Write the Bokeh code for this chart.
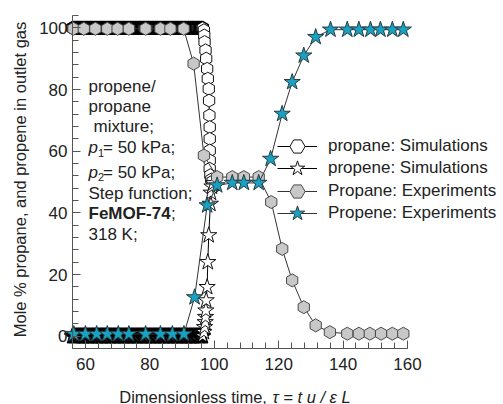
import math
from bokeh.plotting import figure
from bokeh.models import (Range1d, Legend, LegendItem, Label, ColumnDataSource, FixedTicker,
                          CDSView, IndexFilter)
from bokeh.embed import file_html
from bokeh.resources import INLINE

# ---------------- data ----------------
x_major_ticks = [60, 80, 100, 120, 140, 160]
x_minor_ticks = [56, 60, 64, 68, 72, 76, 80, 84, 88, 92, 96, 100, 104, 108, 112,
                 116, 120, 124, 128, 132, 136, 140, 144, 148, 152, 156, 160]
y_major_ticks = [0, 20, 40, 60, 80, 100]
y_minor_ticks = [-4, 0, 4, 8, 12, 16, 20, 24, 28, 32, 36, 40, 44, 48, 52, 56, 60,
                 64, 68, 72, 76, 80, 84, 88, 92, 96, 100, 104]

# simulations: dense output (appears as a solid band)
sim_plateau_t = [
    56.0, 56.4, 56.8, 57.2, 57.6, 58.0, 58.4, 58.8, 59.2, 59.6,
    60.0, 60.4, 60.8, 61.2, 61.6, 62.0, 62.4, 62.8, 63.2, 63.6,
    64.0, 64.4, 64.8, 65.2, 65.6, 66.0, 66.4, 66.8, 67.2, 67.6,
    68.0, 68.4, 68.8, 69.2, 69.6, 70.0, 70.4, 70.8, 71.2, 71.6,
    72.0, 72.4, 72.8, 73.2, 73.6, 74.0, 74.4, 74.8, 75.2, 75.6,
    76.0, 76.4, 76.8, 77.2, 77.6, 78.0, 78.4, 78.8, 79.2, 79.6,
    80.0, 80.4, 80.8, 81.2, 81.6, 82.0, 82.4, 82.8, 83.2, 83.6,
    84.0, 84.4, 84.8, 85.2, 85.6, 86.0, 86.4, 86.8, 87.2, 87.6,
    88.0, 88.4, 88.8, 89.2, 89.6, 90.0, 90.4, 90.8, 91.2, 91.6,
    92.0, 92.4, 92.8, 93.2, 93.6, 94.0, 94.4, 94.8, 95.2, 95.6,
    96.0, 96.4]
sim_propane_plateau = [
    100, 100, 100, 100, 100, 100, 100, 100, 100, 100, 100, 100, 100, 100, 100, 100, 100,
    100, 100, 100, 100, 100, 100, 100, 100, 100, 100, 100, 100, 100, 100, 100, 100, 100,
    100, 100, 100, 100, 100, 100, 100, 100, 100, 100, 100, 100, 100, 100, 100, 100, 100,
    100, 100, 100, 100, 100, 100, 100, 100, 100, 100, 100, 100, 100, 100, 100, 100, 100,
    100, 100, 100, 100, 100, 100, 100, 100, 100, 100, 100, 100, 100, 100, 100, 100, 100,
    100, 100, 100, 100, 100, 100, 100, 100, 100, 100, 100, 100, 100, 100, 100, 100, 100]
sim_propene_plateau = [
    0, 0, 0, 0, 0, 0, 0, 0, 0, 0, 0, 0, 0, 0, 0, 0, 0,
    0, 0, 0, 0, 0, 0, 0, 0, 0, 0, 0, 0, 0, 0, 0, 0, 0,
    0, 0, 0, 0, 0, 0, 0, 0, 0, 0, 0, 0, 0, 0, 0, 0, 0,
    0, 0, 0, 0, 0, 0, 0, 0, 0, 0, 0, 0, 0, 0, 0, 0, 0,
    0, 0, 0, 0, 0, 0, 0, 0, 0, 0, 0, 0, 0, 0, 0, 0, 0,
    0, 0, 0, 0, 0, 0, 0, 0, 0, 0, 0, 0, 0, 0, 0, 0, 0]

sim_propane_front_t = [96.8, 96.9, 97.0, 97.3, 97.5, 97.8, 98.0, 98.3, 98.4, 98.5,
                       98.6, 98.6, 98.6, 98.6, 98.6, 98.8, 99.1, 99.5]
sim_propane_front_y = [99.2, 97.5, 95.4, 92.7, 90.0, 86.7, 83.5, 80.2, 76.4, 71.6,
                       67.8, 64.0, 60.2, 57.0, 54.3, 52.2, 50.8, 50.2]
sim_propene_front_t = [96.8, 97.0, 97.2, 97.3, 97.4, 97.5, 97.8, 98.0, 98.3, 98.8,
                       99.0, 99.3, 99.7]
sim_propene_front_y = [1.3, 2.9, 4.5, 6.2, 8.3, 11.6, 15.9, 24.0, 32.7, 42.9,
                       46.5, 48.5, 49.6]

# experiments
exp_propane_t = [56.3, 59.5, 63.1, 66.8, 70.0, 73.5, 78.7, 83.3, 86.4, 90.5,
                 93.6, 96.8, 100.9, 105.6, 109.2, 113.8, 117.7, 121.1, 124.2, 127.8,
                 131.5, 135.9, 141.3, 144.9, 148.3, 151.8, 155.3, 158.7]
exp_propane_y = [99.7, 99.7, 99.7, 99.7, 99.7, 99.7, 99.7, 99.7, 99.7, 99.7,
                 88.4, 58.6, 51.6, 51.6, 51.6, 51.6, 43.5, 28.3, 18.1, 9.4,
                 3.5, 1.3, 0.8, 0.8, 0.8, 0.8, 0.8, 0.8]
exp_propene_t = [56.4, 60.0, 63.5, 66.8, 70.2, 73.5, 78.7, 83.3, 87.0, 90.6,
                 93.9, 97.8, 100.9, 105.6, 109.2, 113.8, 117.5, 121.1, 124.2, 127.8,
                 131.5, 136.1, 141.3, 144.9, 148.5, 151.6, 155.3, 158.7]
exp_propene_y = [0.7, 0.7, 0.7, 0.7, 0.7, 0.7, 0.7, 0.7, 0.7, 0.7,
                 12.6, 42.4, 48.9, 49.7, 49.7, 49.7, 57.5, 72.1, 82.4, 91.0,
                 97.0, 99.4, 99.4, 99.4, 99.4, 99.4, 99.4, 99.4]

series_labels = ["propane: Simulations", "propene: Simulations",
                 "Propane: Experiments", "Propene: Experiments"]
annotation_lines = ["propene/", "propane", "mixture;"]

# ---------------- layout (frame = whole canvas) ----------------
W, H = 503, 404
AX_L, AX_R, AX_T, AX_B = 72, 407, 15, 348          # axis corners in pixels
SX = (AX_R - AX_L) / (x_minor_ticks[-1] - x_minor_ticks[0])
SY = (AX_B - AX_T) / (y_minor_ticks[-1] - y_minor_ticks[0])
X0 = x_minor_ticks[0] - AX_L / SX
X1 = x_minor_ticks[-1] + (W - AX_R) / SX
Y1 = y_minor_ticks[-1] + AX_T / SY
Y0 = y_minor_ticks[0] - (H - AX_B) / SY

def X(px):
    return X0 + px / SX

def Y(py):
    return Y1 - py / SY

FONT = "Liberation Sans"
TXT = "#222222"
AX = "#555555"

p = figure(width=W, height=H, x_range=Range1d(X0, X1), y_range=Range1d(Y0, Y1),
           output_backend="svg", toolbar_location=None,
           min_border=0, min_border_left=0, min_border_right=0,
           min_border_top=0, min_border_bottom=0)
p.background_fill_color = "white"
p.border_fill_color = "white"
p.outline_line_color = None
p.grid.visible = False

p.xaxis.ticker = FixedTicker(ticks=x_major_ticks, minor_ticks=x_minor_ticks)
p.yaxis.ticker = FixedTicker(ticks=y_major_ticks, minor_ticks=y_minor_ticks)
p.xaxis.bounds = (x_minor_ticks[0], x_minor_ticks[-1])
p.yaxis.bounds = (y_minor_ticks[0], y_minor_ticks[-1])
p.xaxis.fixed_location = y_minor_ticks[0]
p.yaxis.fixed_location = x_minor_ticks[0]
for ax in (p.xaxis[0], p.yaxis[0]):
    ax.axis_line_color = AX
    ax.axis_line_width = 1
    ax.major_tick_line_color = AX
    ax.minor_tick_line_color = AX
    ax.major_tick_in = 8
    ax.major_tick_out = 0
    ax.minor_tick_in = 6
    ax.minor_tick_out = 0
    ax.major_label_text_font = FONT
    ax.major_label_text_font_size = "17px"
    ax.major_label_text_color = TXT
p.xaxis.major_label_standoff = 9
p.yaxis.major_label_standoff = 5

# ---------------- glyphs ----------------
src_sim_propane = ColumnDataSource(dict(t=sim_plateau_t + sim_propane_front_t,
                                        y=sim_propane_plateau + sim_propane_front_y))
src_sim_propene = ColumnDataSource(dict(t=sim_plateau_t + sim_propene_front_t,
                                        y=sim_propene_plateau + sim_propene_front_y))
src_exp_propane = ColumnDataSource(dict(t=exp_propane_t, y=exp_propane_y))
src_exp_propene = ColumnDataSource(dict(t=exp_propene_t, y=exp_propene_y))

n_plat = len(sim_plateau_t)
plat_view = CDSView(filter=IndexFilter(list(range(n_plat))))
front_view_a = CDSView(filter=IndexFilter(list(range(n_plat, n_plat + len(sim_propane_front_t)))))
front_view_b = CDSView(filter=IndexFilter(list(range(n_plat, n_plat + len(sim_propene_front_t)))))
plat_view_b = CDSView(filter=IndexFilter(list(range(n_plat))))

LINE = "#333333"
HEX_ANGLE = math.pi / 6

l1 = p.line("t", "y", source=src_sim_propane, line_color="#000000", line_width=1)
p.scatter("t", "y", source=src_sim_propane, view=plat_view, marker="hex", size=13,
          angle=HEX_ANGLE, fill_color="white", line_color="#000000", line_width=1.5)
m1 = p.scatter("t", "y", source=src_sim_propane, view=front_view_a, marker="hex", size=13,
               angle=HEX_ANGLE, fill_color="white", line_color="#111111", line_width=1)
l2 = p.line("t", "y", source=src_sim_propene, line_color="#000000", line_width=1)
p.scatter("t", "y", source=src_sim_propene, view=plat_view_b, marker="star", size=17,
          fill_color="white", line_color="#000000", line_width=1.5)
m2 = p.scatter("t", "y", source=src_sim_propene, view=front_view_b, marker="star", size=17,
               fill_color="white", line_color="#111111", line_width=1)
l3 = p.line("t", "y", source=src_exp_propane, line_color=LINE, line_width=1)
m3 = p.scatter("t", "y", source=src_exp_propane, marker="hex", size=13, angle=HEX_ANGLE,
               fill_color="#c8c8c8", line_color="#4a4a4a", line_width=1)
l4 = p.line("t", "y", source=src_exp_propene, line_color=LINE, line_width=1)
m4 = p.scatter("t", "y", source=src_exp_propene, marker="star", size=17,
               fill_color="#17a2c2", line_color="#2a3a40", line_width=1)

# one single-row legend per entry (lets the rows sit closer than the glyph box)
row_centers = [145.5, 168, 190.5, 213]
for lab, rends, cy in zip(series_labels, [[l1, m1], [l2, m2], [l3, m3], [l4, m4]], row_centers):
    lg = Legend(items=[LegendItem(label=lab, renderers=rends)],
                location=(277, H - (cy + 19)), glyph_width=40, glyph_height=38,
                label_standoff=11, padding=0, margin=0, border_line_color=None,
                background_fill_alpha=0, label_height=20,
                label_text_font=FONT, label_text_font_size="17px", label_text_color=TXT)
    p.add_layout(lg)

# ---------------- text ----------------
def add_text(px, py, text, size="17px", style="normal", align="left", angle=0.0):
    p.add_layout(Label(x=X(px), y=Y(py), text=text, text_font=FONT, text_font_size=size,
                       text_font_style=style, text_color=TXT, text_align=align,
                       text_baseline="middle", angle=angle))

add_text(88, 86, annotation_lines[0])
add_text(88, 106, annotation_lines[1])
add_text(93, 126, annotation_lines[2])
add_text(88, 147, "p", style="italic")
add_text(97.5, 152, "1", size="11px")
add_text(102.5, 147, "= 50 kPa;")
add_text(88, 171.5, "p", style="italic")
add_text(97.5, 176.5, "2", size="11px")
add_text(102.5, 171.5, "= 50 kPa;")
add_text(88, 192.5, "Step function;")
add_text(88, 213, "FeMOF-74", style="bold")
add_text(170.5, 213, ";")
add_text(88, 234, "318 K;")

# axis titles
add_text(271, 396, "Dimensionless time, ", size="16.5px", align="right")
add_text(272, 396, "τ = t u / ε L", size="16.5px", style="italic")
add_text(19.5, 179, "Mole % propane, and propene in outlet gas", size="16.5px",
         align="center", angle=math.pi / 2)

open("out.html", "w").write(file_html(p, INLINE))
